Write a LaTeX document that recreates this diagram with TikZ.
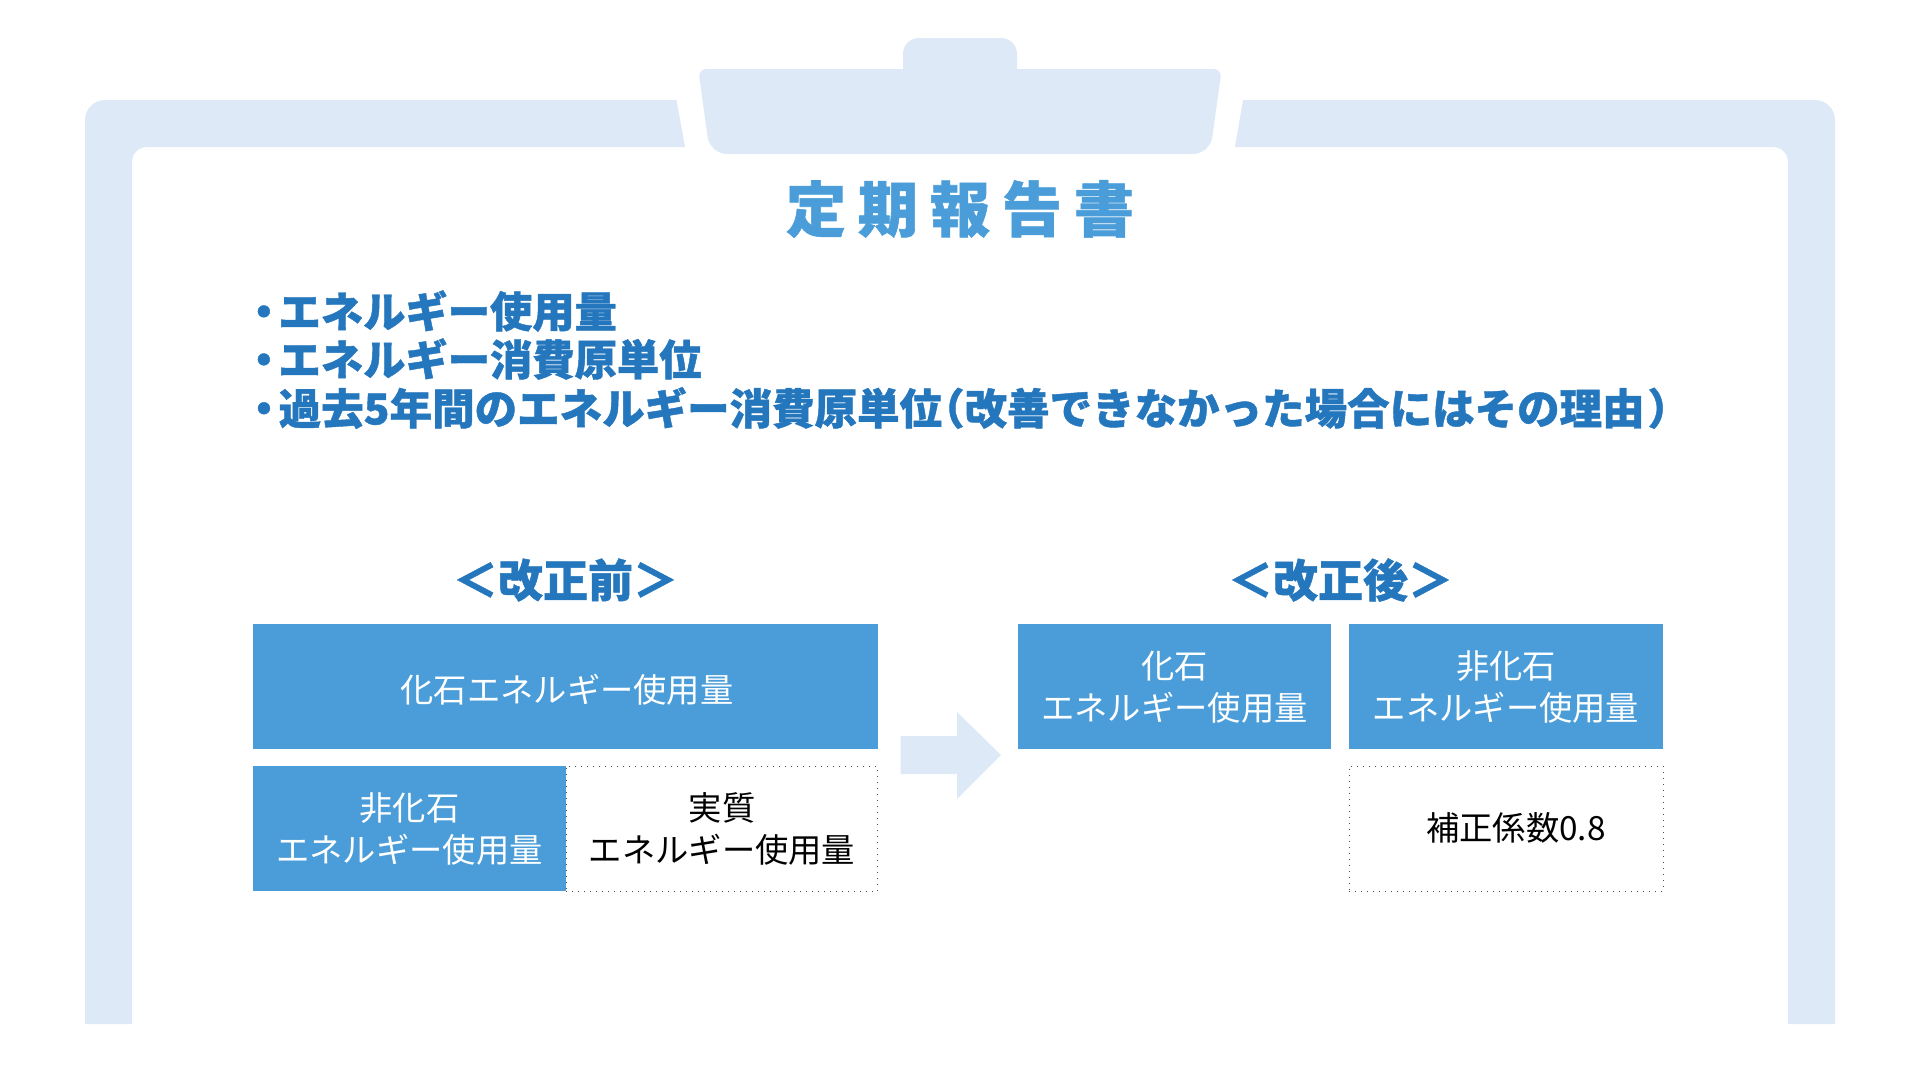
\documentclass[tikz,border=0pt]{standalone}
\usepackage{fontspec}
\setmainfont{Noto Sans CJK JP}
\newfontfamily\cjkheavy[FakeBold=1]{Noto Sans CJK JP Black}
\definecolor{framepale}{HTML}{DEE9F7}
\definecolor{boxblue}{HTML}{4A9DD8}
\definecolor{headblue}{HTML}{2476BD}
\tikzset{
  blockfill/.style={fill=boxblue,text=white,font=\fontsize{33.3}{42}\selectfont,align=center,inner sep=0pt,minimum height=125pt},
  blockdot/.style={draw=black!70,line width=1pt,dash pattern=on 1pt off 5pt,text=black,font=\fontsize{33.3}{42}\selectfont,align=center,inner sep=0pt,minimum height=125pt},
  headline/.style={text=headblue,font=\cjkheavy\fontsize{45}{45}\selectfont,inner sep=0pt},
  bulletline/.style={text=headblue,font=\cjkheavy\fontsize{42.3}{42.3}\selectfont,inner sep=0pt,anchor=west}
}
\newcommand{\dotkern}{・\kern-6.5pt}
\newcommand{\droptext}[2]{\raisebox{-#1}[\dimexpr\height+#1][\dimexpr\depth-#1]{#2}}
\newcommand{\toprule}{\rule{0pt}{29.6pt}}
\begin{document}
\begin{tikzpicture}
                [x=1pt,y=-1pt]
                \useasboundingbox (0,0) rectangle (1920,1080);
                % frame
                \fill[framepale] (85,1024) [rounded corners=20pt] -- (85,100) [sharp corners] -- (676.5,100) -- (685,147) [rounded corners=15pt] -- (132,147) [sharp corners] -- (132,1024) -- cycle;
                \fill[framepale] (1835,1024) [rounded corners=20pt] -- (1835,100) [sharp corners] -- (1243,100) -- (1235,147) [rounded corners=15pt] -- (1788,147) [sharp corners] -- (1788,1024) -- cycle;
                % clip on top
                \fill[framepale] (903,80) [rounded corners=16pt] -- (903,38) -- (1017,38) [sharp corners] -- (1017,80) -- cycle;
                \fill[framepale] (704,111) [rounded corners=8pt] -- (698.3,69) -- (1221.7,69) [rounded corners=17pt] -- (1210,154) -- (710,154) [sharp corners] -- cycle;

                \node[text=boxblue,font=\cjkheavy\fontsize{60}{60}\selectfont,inner sep=0pt] (title) at (960,209) {定\hspace{12pt}期\hspace{12pt}報\hspace{12pt}告\hspace{12pt}書};

                \node[bulletline] (b1) at (242.5,311) {\dotkern エネルギー使用量};
                \node[bulletline] (b2) at (242.5,359) {\dotkern エネルギー消費原単位};
                \node[bulletline,font=\cjkheavy\fontsize{42.5}{42.5}\selectfont] (b3) at (242.5,408) {\dotkern 過去5年間のエネルギー消費原単位\kern-20pt（改善できなかった場合にはその理由\kern3pt）};

                \node[headline] (before) at (565.5,580) {＜改正前＞};
                \node[headline] (after) at (1340.5,580) {＜改正後＞};

                \node[blockfill,minimum width=625pt] (fossil) at (565.5,686) {\droptext{2pt}{\hspace*{3pt}化石エネルギー使用量}};
                \node[blockfill,minimum width=313.5pt] (nonfossil) at (409.5,828.5) {\toprule 非化石\\エネルギー使用量};
                \node[blockdot,minimum width=311.5pt] (real) at (722,828.5) {\toprule 実質\\エネルギー使用量};
                \node[blockfill,minimum width=313.5pt] (fossil2) at (1174.5,686) {\toprule 化石\\エネルギー使用量};
                \node[blockfill,minimum width=314pt] (nonfossil2) at (1506,686) {\toprule 非化石\\エネルギー使用量};
                \node[blockdot,minimum width=314pt,text width=314pt] (coef) at (1506,828.5) {\hspace{20pt}\droptext{-0.4pt}{補正係数0.8}};

                % arrow
                \fill[framepale] (900.5,736) -- (957,736) -- (957,712) -- (1001,755) -- (957,799) -- (957,774) -- (900.5,774) -- cycle;
            \end{tikzpicture}
\end{document}
